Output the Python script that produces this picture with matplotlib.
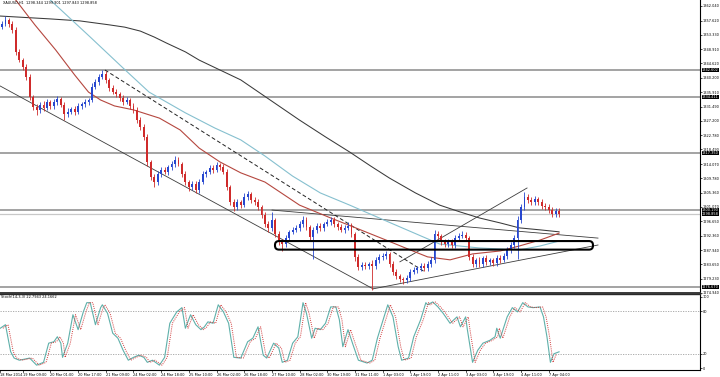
import numpy as np
import matplotlib
matplotlib.use("Agg")
import matplotlib.pyplot as plt
from matplotlib.patches import FancyBboxPatch
import matplotlib.transforms as mtrans

FS = 2.55
plt.rcParams['font.family'] = ['DejaVu Sans']

# ---------------- data ----------------
header_text = "XAUUSD,H1  1298.344 1299.901 1297.843 1298.858"
stoch_text = "Stoch(14,3,3) 22.7943 24.1662"

first_open = 1355.6
close = [
    1356.6, 1357.8, 1356.6, 1354.8, 1348.1, 1345.7, 1343.5, 1340.5, 1334.4, 1331.4,
    1330.5, 1332.0, 1331.1, 1332.9, 1331.7, 1332.9, 1333.8, 1332.0, 1329.3, 1329.9,
    1330.8, 1329.9, 1331.7, 1332.3, 1332.9, 1333.5, 1337.5, 1339.0, 1340.5, 1341.4,
    1339.6, 1337.2, 1335.9, 1335.3, 1334.1, 1332.9, 1333.5, 1331.7, 1330.5, 1327.4,
    1325.3, 1322.3, 1314.7, 1310.1, 1308.6, 1311.0, 1312.3, 1311.7, 1313.2, 1314.1,
    1315.3, 1314.1, 1311.0, 1308.6, 1307.1, 1308.0, 1306.2, 1308.6, 1311.0, 1311.7,
    1312.9, 1312.3, 1313.8, 1313.2, 1311.7, 1307.1, 1302.5, 1301.0, 1302.5, 1301.6,
    1304.1, 1305.0, 1303.2, 1302.5, 1301.0, 1298.6, 1295.9, 1294.7, 1297.1, 1292.8,
    1290.4, 1289.8, 1291.6, 1293.5, 1294.1, 1294.7, 1295.9, 1297.1, 1295.0, 1291.9,
    1294.1, 1295.3, 1294.7, 1295.9, 1296.5, 1297.1, 1295.9, 1295.0, 1294.1, 1294.7,
    1295.3, 1292.8, 1285.9, 1282.8, 1283.4, 1283.1, 1283.7, 1283.1, 1284.9, 1285.9,
    1286.2, 1286.8, 1283.7, 1281.3, 1280.1, 1279.2, 1278.9, 1279.5, 1281.3, 1281.9,
    1282.5, 1283.1, 1282.5, 1283.7, 1284.9, 1292.8, 1292.2, 1290.4, 1289.8, 1290.4,
    1289.5, 1291.6, 1292.2, 1292.5, 1291.6, 1285.9, 1283.7, 1284.9, 1283.7, 1285.6,
    1284.3, 1284.9, 1284.0, 1285.6, 1284.9, 1286.2, 1288.0, 1289.5, 1291.6, 1297.1,
    1301.0, 1304.1, 1303.2, 1302.5, 1303.5, 1302.5, 1301.3, 1301.0, 1300.1, 1298.9,
    1299.8, 1298.858]
wick_up = [
    0.8, 1.2, 0.6, 0.9, 0.7, 1.0, 0.6, 0.8, 0.9, 0.7,
    0.9, 0.8, 1.1, 0.9, 0.7, 1.0, 0.8, 0.6, 0.9, 1.2,
    0.7, 0.8, 1.0, 0.6, 0.9, 0.7, 1.1, 0.8, 0.9, 1.2,
    0.9, 0.7, 1.0, 0.8, 0.6, 0.9, 1.0, 0.7, 0.8, 0.9,
    1.0, 0.8, 0.9, 0.7, 0.9, 1.1, 0.8, 1.0, 0.7, 0.9,
    1.2, 0.8, 0.7, 0.9, 0.6, 1.0, 0.8, 0.9, 1.1, 0.7,
    0.9, 0.8, 1.0, 0.7, 0.9, 0.8, 0.6, 0.9, 1.0, 0.8,
    1.1, 0.9, 0.7, 0.8, 0.9, 0.6, 0.8, 0.9, 2.5, 0.7,
    0.8, 0.9, 1.0, 0.7, 0.8, 0.9, 1.0, 1.1, 0.8, 0.7,
    0.9, 0.8, 1.0, 0.7, 0.9, 1.0, 0.8, 0.7, 0.9, 1.0,
    1.1, 0.8, 0.7, 0.9, 0.8, 1.0, 0.7, 1.2, 0.9, 0.8,
    0.9, 0.8, 0.7, 0.9, 0.8, 0.6, 0.7, 0.9, 1.0, 0.8,
    0.7, 0.9, 0.8, 1.0, 0.9, 1.3, 0.8, 0.7, 0.9, 1.0,
    0.8, 0.9, 1.0, 1.3, 0.8, 0.7, 0.9, 0.8, 1.0, 0.7,
    0.9, 0.8, 0.7, 0.9, 0.8, 0.9, 1.0, 0.8, 0.9, 1.2,
    1.0, 1.5, 0.9, 0.8, 1.0, 0.7, 0.9, 0.8, 1.0, 0.9,
    0.8, 1.0]
wick_dn = [
    0.7, 0.8, 0.9, 1.0, 0.8, 0.7, 0.9, 1.0, 0.8, 0.9,
    1.5, 0.8, 0.9, 0.7, 1.0, 0.8, 0.9, 0.7, 1.8, 0.9,
    0.8, 1.0, 0.7, 0.9, 0.8, 1.0, 0.7, 0.8, 0.9, 0.7,
    0.8, 0.9, 0.7, 1.0, 0.8, 0.9, 0.7, 0.8, 1.0, 0.9,
    0.8, 1.0, 1.2, 0.9, 1.5, 0.8, 0.9, 0.7, 1.0, 0.8,
    0.9, 0.7, 1.0, 0.8, 1.2, 0.9, 1.0, 0.8, 0.7, 0.9,
    0.8, 1.0, 0.7, 0.9, 0.8, 1.0, 0.9, 1.1, 0.8, 0.9,
    0.7, 0.8, 1.0, 0.9, 0.8, 1.0, 0.9, 1.2, 0.8, 1.0,
    1.0, 2.0, 0.8, 0.9, 0.7, 0.8, 1.0, 0.9, 0.8, 1.0,
    6.6, 0.9, 0.8, 1.0, 0.7, 0.8, 0.9, 1.0, 0.8, 0.9,
    0.7, 1.0, 1.2, 0.9, 0.8, 1.0, 0.9, 7.2, 0.8, 0.9,
    1.0, 0.8, 0.9, 1.0, 0.8, 0.9, 1.2, 0.8, 0.9, 0.7,
    0.8, 0.9, 1.0, 0.8, 0.9, 1.0, 0.8, 0.9, 1.0, 0.8,
    0.9, 0.8, 1.0, 0.7, 0.8, 1.0, 0.9, 0.8, 1.0, 0.9,
    0.8, 0.9, 1.0, 0.8, 0.9, 0.7, 0.8, 0.9, 1.0, 6.3,
    0.9, 0.8, 1.0, 0.9, 0.8, 1.0, 0.9, 0.8, 1.0, 0.9,
    0.8, 0.9]

# moving averages (bar index, price)
ma_red_t = [4, 8, 19, 31, 42, 50, 57, 65, 76, 91, 103, 114, 126, 138, 152, 172, 190, 203,
            222, 236, 246, 259, 272, 288, 299, 311, 322]
ma_red_v = [1365.6, 1363.8, 1356.3, 1348.7, 1341.1, 1335.9, 1333.5, 1331.7, 1330.5, 1328.0,
            1324.4, 1318.9, 1314.7, 1311.4, 1308.6, 1301.6, 1297.7, 1295.0, 1291.0, 1288.0,
            1285.9, 1285.0, 1286.8, 1287.7, 1289.2, 1291.0, 1293.1]
ma_cyan_t = [25, 28, 51, 70, 85, 106, 123, 138, 152, 168, 184, 201, 226, 253, 276, 299, 311, 322]
ma_cyan_v = [1365.7, 1363.8, 1352.6, 1343.2, 1335.9, 1329.6, 1325.0, 1321.4, 1316.5, 1310.4,
             1305.3, 1301.6, 1295.9, 1289.8, 1288.6, 1288.0, 1289.2, 1290.7]
ma_black_t = [-2, 28, 45, 62, 71, 80, 88, 95, 106, 114, 126, 138, 155, 172, 187, 201, 213,
              224, 239, 253, 265, 276, 288, 299, 311, 322]
ma_black_v = [1359.0, 1358.1, 1357.5, 1356.3, 1355.6, 1354.4, 1352.6, 1350.8, 1348.1, 1345.6,
              1342.6, 1339.6, 1333.5, 1327.4, 1322.3, 1317.7, 1313.5, 1309.8, 1305.3, 1301.6,
              1299.5, 1297.7, 1296.2, 1294.7, 1294.1, 1293.5]

# trend lines ((bar, price), (bar, price))
trend_lines = [((-3, 1338.3), (214.5, 1276.2)),
               ((214.5, 1276.2), (344.5, 1289.5)),
               ((156.1, 1300.1), (344.5, 1291.6)),
               ((230.0, 1284.4), (303.5, 1306.8))]
dashed_line = ((59.5, 1342.6), (244.5, 1281.3))
zone_bars = (157.8, 341.6)
zone_prices = (1288.1, 1290.7)

hlines = [1342.602, 1334.411, 1317.350, 1300.190, 1276.670]
bid_price = 1298.858

price_ticks = [1362.040, 1357.620, 1353.330, 1348.910, 1344.620, 1340.200, 1335.910,
               1331.490, 1327.200, 1322.780, 1318.490, 1314.070, 1309.780, 1305.360,
               1301.070, 1296.650, 1292.360, 1287.940, 1283.650, 1279.230, 1274.940]

time_label_bars = [-1, 12, 28, 44, 60, 76, 92, 108, 124, 140, 156, 172, 188, 204, 220, 236,
                   252, 268, 284, 300, 316]
time_labels = ["18 Mar 2014", "19 Mar 09:00", "20 Mar 01:00", "20 Mar 17:00", "21 Mar 09:00",
               "24 Mar 02:00", "24 Mar 18:00", "25 Mar 10:00", "26 Mar 02:00", "26 Mar 18:00",
               "27 Mar 10:00", "28 Mar 02:00", "30 Mar 19:00", "31 Mar 11:00", "1 Apr 03:00",
               "1 Apr 19:00", "2 Apr 11:00", "3 Apr 03:00", "3 Apr 19:00", "4 Apr 11:00",
               "7 Apr 04:00"]

stoch_t = [-1, 2, 5, 7, 10, 16, 20, 24, 27, 30, 32, 34, 35, 38, 41, 44, 47, 49, 51, 54,
           57, 58, 61, 64, 67, 70, 73, 76, 79, 82, 84, 87, 91, 94, 97, 101, 104, 106, 109, 112,
           115, 117, 119, 122, 125, 128, 131, 134, 138, 142, 145, 148, 151, 153, 157, 160, 162,
           165, 168, 171, 174, 176, 179, 181, 184, 187, 190, 193, 195, 197, 200, 203, 206, 211,
           214, 217, 223, 226, 229, 231, 235, 238, 242, 245, 246, 249, 252, 255, 259, 263, 265,
           268, 269, 272, 275, 278, 282, 285, 286, 288, 292, 295, 298, 301, 304, 307, 311, 313,
           315, 317, 319, 322]
stoch_k = [56, 61, 23, 14, 11, 14, 4, 8, 35, 37, 44, 35, 15, 35, 75, 54, 79, 92, 92, 61,
           85, 89, 77, 49, 42, 25, 11, 15, 18, 15, 8, 11, 4, 15, 63, 79, 85, 56, 75, 61,
           54, 58, 65, 63, 89, 79, 63, 15, 14, 37, 42, 58, 18, 14, 35, 28, 8,
           11, 35, 44, 92, 77, 42, 56, 54, 63, 86, 86, 68, 30, 54, 32, 11, 7,
           11, 42, 89, 72, 30, 11, 14, 44, 68, 92, 89, 93, 86, 77, 63, 72, 58,
           72, 54, 8, 25, 35, 39, 44, 56, 42, 72, 85, 79, 92, 86, 85, 86, 72,
           44, 8, 20, 22.8]
stoch_levels = [20, 80]
stoch_ticks = [0, 20, 80, 100]

# ---------------- styling ----------------
BULL = '#2747cf'
BEAR = '#cf2b2b'
W, H = 720, 377
PX_PER_BAR = 1.73
X_LEFT = -2 / PX_PER_BAR
X_RIGHT = 698 / PX_PER_BAR
Y_TOP, Y_BOT = 1363.84, 1274.94

fig = plt.figure(figsize=(7.2, 3.77), dpi=100)
fig.patch.set_facecolor('white')
ax = fig.add_axes([0, 84 / H, 700 / W, 293 / H])
ax2 = fig.add_axes([0, 7 / H, 700 / W, 76 / H])

for a in (ax, ax2):
    a.set_xlim(X_LEFT, X_RIGHT)
    a.set_facecolor('white')
    a.spines['left'].set_visible(False)
    a.spines['right'].set_color('#000000')
    a.spines['right'].set_linewidth(0.8)
    a.set_xticks([])
    a.yaxis.tick_right()
    a.tick_params(axis='y', direction='out', length=1.5, width=0.5, pad=0.6,
                  labelsize=FS, colors='#000000')
ax.spines['top'].set_visible(False)
ax.spines['bottom'].set_linewidth(1.3)
ax.spines['bottom'].set_color('#2a2a2a')
ax2.spines['top'].set_linewidth(1.0)
ax2.spines['top'].set_color('#2a2a2a')
ax2.spines['bottom'].set_linewidth(0.8)

ax.set_ylim(Y_BOT, Y_TOP)
ax.set_yticks(price_ticks)
ax.set_yticklabels(['%.3f' % p for p in price_ticks])

# horizontal levels
for p in hlines:
    ax.axhline(p, color='#8a8a8a', lw=1.1, zorder=1)
ax.axhline(bid_price, color='#c8c8c8', lw=0.9, zorder=1)

# channel / triangle lines
for (xa, ya), (xb, yb) in trend_lines:
    ax.plot([xa, xb], [ya, yb], color='#3c3c3c', lw=0.6, zorder=2)
(xa, ya), (xb, yb) = dashed_line
ax.plot([xa, xb], [ya, yb], color='#222222', lw=0.7, dashes=(4, 2.5), zorder=2)

# moving averages
ax.plot(ma_black_t, ma_black_v, color='#3a3a3a', lw=0.75, zorder=3)
ax.plot(ma_cyan_t, ma_cyan_v, color='#86c0cf', lw=0.8, zorder=3)
ax.plot(ma_red_t, ma_red_v, color='#b5473f', lw=0.8, zorder=3)

# candles
c = np.array(close)
o = np.concatenate([[first_open], c[:-1]])
t = np.arange(len(c)) * 2
hi = np.maximum(o, c) + np.array(wick_up)
lo = np.minimum(o, c) - np.array(wick_dn)
cols = np.where(c >= o, BULL, BEAR)
ax.vlines(t, lo, hi, colors=cols, lw=0.6, zorder=4)
ax.bar(t, np.maximum(np.abs(c - o), 0.2), bottom=np.minimum(o, c), width=1.1,
       color=cols, linewidth=0, zorder=5)

# zone rectangle
zx0, zx1 = zone_bars
zy0, zy1 = zone_prices
aspect = ((Y_TOP - Y_BOT) / 293) / ((X_RIGHT - X_LEFT) / 700)
zone = FancyBboxPatch((zx0, zy0), zx1 - zx0, zy1 - zy0,
                      boxstyle="round,pad=0,rounding_size=2.3",
                      mutation_aspect=aspect, fc='none', ec='#000000', lw=1.5, zorder=6)
ax.add_patch(zone)

# highlighted price labels on the axis
trans_r = mtrans.blended_transform_factory(ax.transAxes, ax.transData)
for p in hlines + [bid_price]:
    ax.text(1.003, p, '%.3f' % p, transform=trans_r, ha='left', va='center',
            fontsize=FS, color='white', clip_on=False, zorder=10,
            bbox=dict(boxstyle='square,pad=0.04', fc='black', ec='black', lw=0))

ax.text(3 / 700, 1 - 1.5 / 293, header_text, transform=ax.transAxes, ha='left', va='top',
        fontsize=FS, color='#000000')

# stochastic
ax2.set_ylim(-2.8, 104.2)
ax2.set_yticks(stoch_ticks)
ax2.set_yticklabels([str(v) for v in stoch_ticks])
for lv in stoch_levels:
    ax2.axhline(lv, color='#a0a0a0', lw=0.6, ls=(0, (1.5, 1.5)))
ax2.plot(stoch_t, stoch_k, color='#5fb0aa', lw=0.8, zorder=3)
ax2.plot(np.array(stoch_t[:-1]) + 1.5, stoch_k[:-1], color='#d03a3a', lw=0.7,
         ls=(0, (1, 1.2)), zorder=4)
ax2.text(1 / 700, 1 - 1.5 / 76, stoch_text, transform=ax2.transAxes, ha='left', va='top',
         fontsize=FS, color='#000000')

trans_b = mtrans.blended_transform_factory(ax2.transData, ax2.transAxes)
for b, lab in zip(time_label_bars, time_labels):
    ax2.text(b, -0.035, lab, transform=trans_b, ha='left', va='top', fontsize=FS,
             color='#000000', clip_on=False)
    ax2.plot([b, b], [0, -0.03], transform=trans_b, color='#000000', lw=0.5, clip_on=False)

fig.savefig('out.png', dpi=100, facecolor='white')
